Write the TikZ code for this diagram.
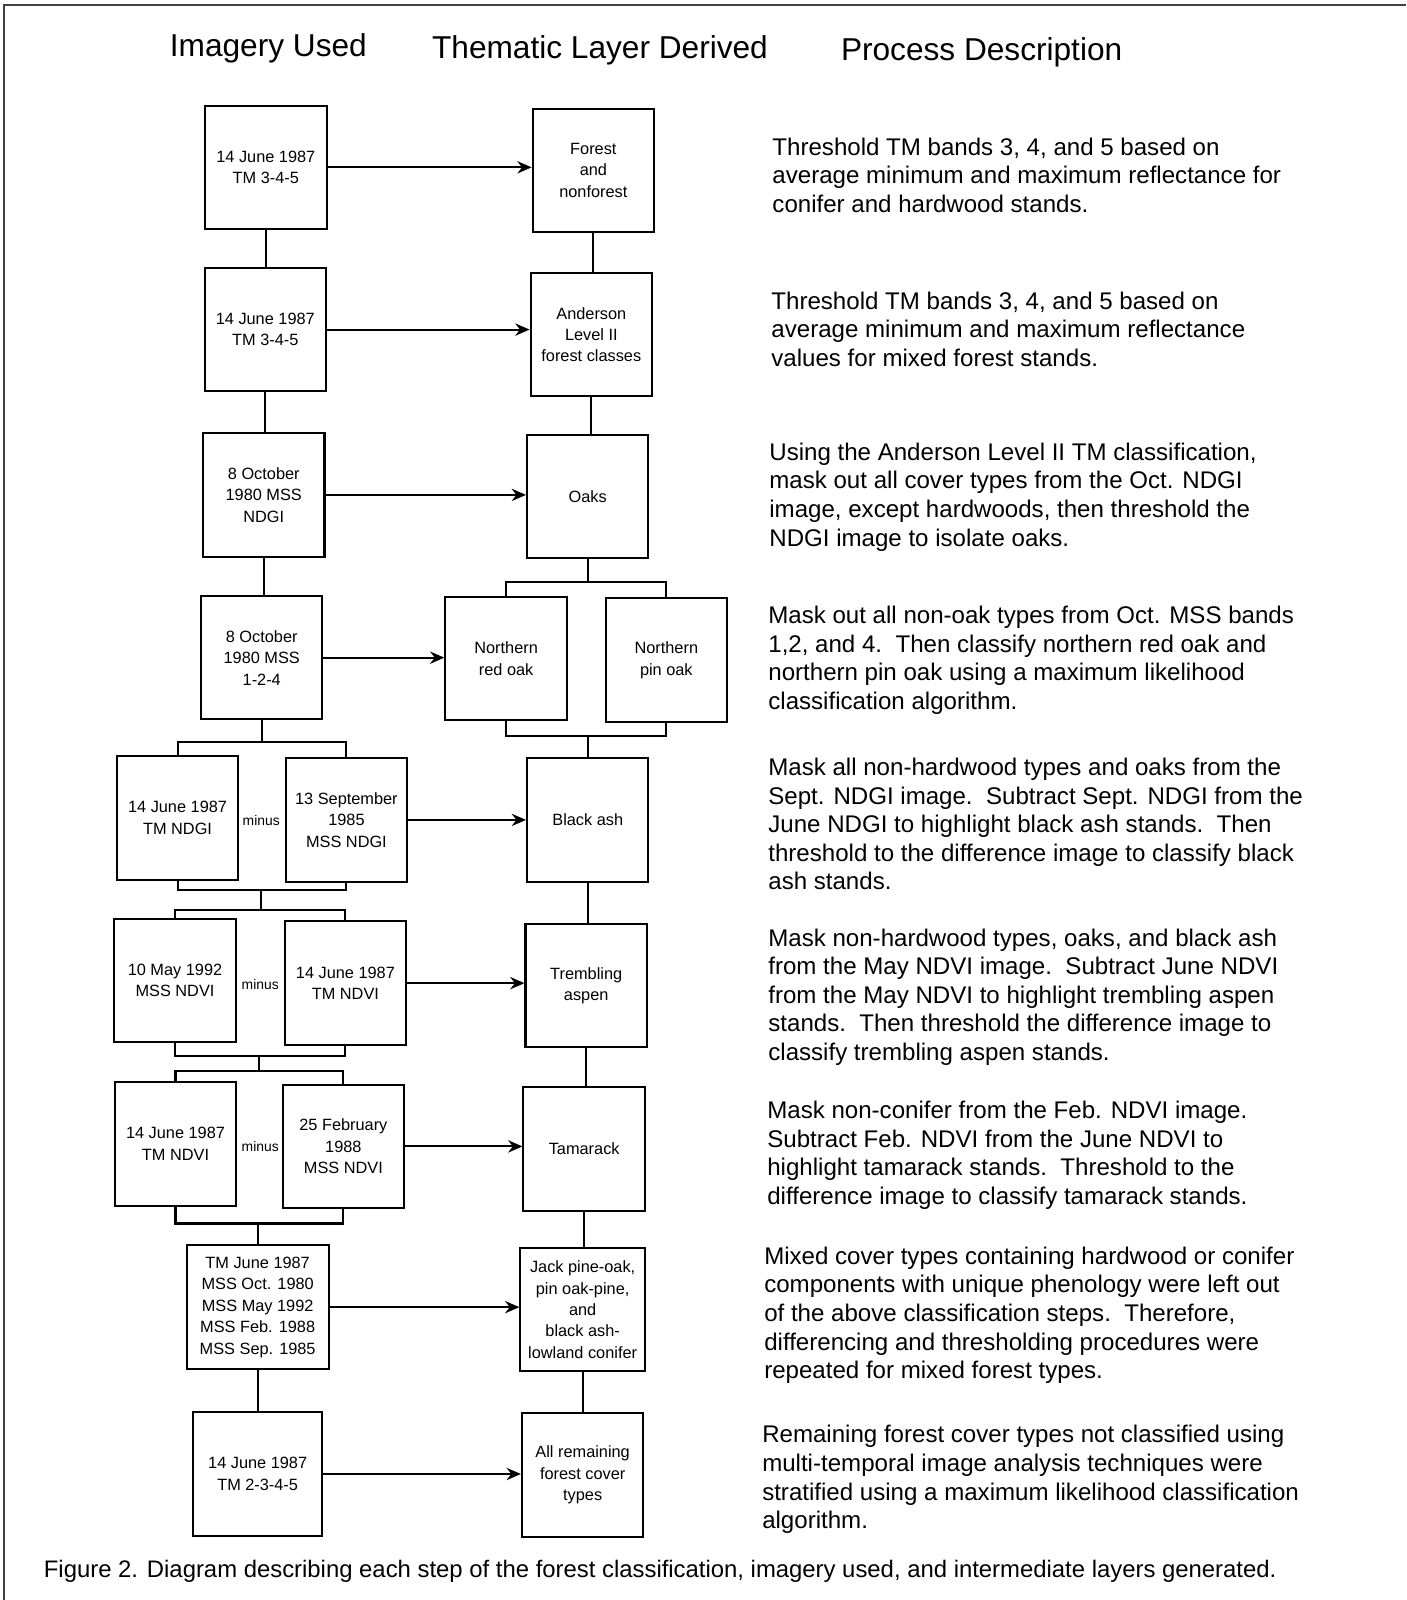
\documentclass[tikz,border=0pt]{standalone}
\usepackage{fontspec}
\setmainfont{Liberation Sans}
\usetikzlibrary{arrows.meta}

\begin{document}
\begin{tikzpicture}[x=0.5pt, y=-0.5pt, line width=1pt, >={Stealth[length=7pt,width=6pt]},
    cell/.style = {draw, minimum width=59.5pt, minimum height=60.5pt, inner sep=1pt, align=center, font=\fontsize{8}{10.5}\selectfont},
    headtxt/.style = {anchor=base, inner sep=0pt, font=\fontsize{15.5}{18}\selectfont},
    desctxt/.style = {anchor=north west, inner sep=0pt, align=left, font=\fontsize{11.8}{14}\selectfont},
    minuslbl/.style = {inner sep=0pt, font=\fontsize{6.8}{8}\selectfont}]
    \useasboundingbox (0,0) rectangle (1378,1568);
    \draw[line width=0.8pt, black!75] (4,1568) -- (4,5) -- (1378,5);

    \node[headtxt] (h1) at (263,55) {Imagery Used};
    \node[headtxt] (h2) at (588,57) {Thematic Layer Derived};
    \node[headtxt] (h3) at (962,59) {Process Description};

    \node[cell] (img1) at (260.5,164) {14 June 1987\\TM 3-4-5};
    \node[cell] (img2) at (260,323) {14 June 1987\\TM 3-4-5};
    \node[cell] (img3) at (258.5,485) {8 October\\1980 MSS\\NDGI};
    \node[cell] (img4) at (256.5,644.5) {8 October\\1980 MSS\\1-2-4};
    \node[cell] (img5a) at (174,801.5) {14 June 1987\\TM NDGI};
    \node[cell] (img5b) at (339.5,803.5) {13 September\\1985\\MSS NDGI};
    \node[cell] (img6a) at (171.5,961) {10 May 1992\\MSS NDVI};
    \node[cell] (img6b) at (338.5,963.5) {14 June 1987\\TM NDVI};
    \node[cell] (img7a) at (172,1121) {14 June 1987\\TM NDVI};
    \node[cell] (img7b) at (336.5,1123.5) {25 February\\1988\\MSS NDVI};
    \node[cell, minimum width=69.5pt, minimum height=61pt] (img8) at (252.5,1281) {TM June 1987\\MSS Oct. 1980\\MSS May 1992\\MSS Feb. 1988\\MSS Sep. 1985};
    \node[cell, minimum width=63pt] (img9) at (252.5,1444.5) {14 June 1987\\TM 2-3-4-5};

    \node[minuslbl] (m5) at (256,804) {minus};
    \node[minuslbl] (m6) at (255,965) {minus};
    \node[minuslbl] (m7) at (255,1124) {minus};

    \node[cell] (lay1) at (581.5,167) {Forest\\and\\nonforest};
    \node[cell] (lay2) at (579.5,328) {Anderson\\Level II\\forest classes};
    \node[cell] (lay3) at (576,486.5) {Oaks};
    \node[cell] (lay4a) at (496,645.5) {Northern\\red oak};
    \node[cell] (lay4b) at (653,647) {Northern\\pin oak};
    \node[cell] (lay5) at (576,803.5) {Black ash};
    \node[cell] (lay6) at (574.5,966) {Trembling\\aspen};
    \node[cell] (lay7) at (572.5,1126) {Tamarack};
    \node[cell, minimum width=61pt] (lay8) at (571,1283.5) {Jack pine-oak,\\pin oak-pine,\\and\\black ash-\\lowland conifer};
    \node[cell] (lay9) at (571,1445.5) {All remaining\\forest cover\\types};

    \node[desctxt] (d1) at (756,134) {Threshold TM bands 3, 4, and 5 based on\\average minimum and maximum reflectance for\\conifer and hardwood stands.};
    \node[desctxt] (d2) at (755,285) {Threshold TM bands 3, 4, and 5 based on\\average minimum and maximum reflectance\\values for mixed forest stands.};
    \node[desctxt] (d3) at (753,433) {Using the Anderson Level II TM classification,\\mask out all cover types from the Oct. NDGI\\image, except hardwoods, then threshold the\\NDGI image to isolate oaks.};
    \node[desctxt] (d4) at (752,593) {Mask out all non-oak types from Oct. MSS bands\\1,2, and 4.\ \ Then classify northern red oak and\\northern pin oak using a maximum likelihood\\classification algorithm.};
    \node[desctxt] (d5) at (752,742) {Mask all non-hardwood types and oaks from the\\Sept. NDGI image.\ \ Subtract Sept. NDGI from the\\June NDGI to highlight black ash stands.\ \ Then\\threshold to the difference image to classify black\\ash stands.};
    \node[desctxt] (d6) at (752,909) {Mask non-hardwood types, oaks, and black ash\\from the May NDVI image.\ \ Subtract June NDVI\\from the May NDVI to highlight trembling aspen\\stands.\ \ Then threshold the difference image to\\classify trembling aspen stands.};
    \node[desctxt] (d7) at (751,1078) {Mask non-conifer from the Feb. NDVI image.\\Subtract Feb. NDVI from the June NDVI to\\highlight tamarack stands.\ \ Threshold to the\\difference image to classify tamarack stands.};
    \node[desctxt] (d8) at (748,1221) {Mixed cover types containing hardwood or conifer\\components with unique phenology were left out\\of the above classification steps.\ \ Therefore,\\differencing and thresholding procedures were\\repeated for mixed forest types.};
    \node[desctxt] (d9) at (746,1396) {Remaining forest cover types not classified using\\multi-temporal image analysis techniques were\\stratified using a maximum likelihood classification\\algorithm.};

    \node[anchor=base west, inner sep=0pt, font=\fontsize{11.7}{14}\selectfont] (cap) at (42,1546) {Figure 2. Diagram describing each step of the forest classification, imagery used, and intermediate layers generated.};

    \coordinate (l5t) at (256.5,727);
    \coordinate (l5b) at (256,872);
    \coordinate (l6t) at (256,892);
    \coordinate (l6b) at (254,1035);
    \coordinate (l7t) at (254,1050);
    \coordinate (l7b) at (252.5,1199);
    \coordinate (r4t) at (576,570);
    \coordinate (r4b) at (576,721);

    \draw (img1.south) -- (img1.south |- img2.north);
    \draw (img2.south) -- (img2.south |- img3.north);
    \draw (img3.south) -- (img3.south |- img4.north);
    \draw (img4.south) -- (l5t);
    \draw (img5a.north) |- (l5t) -| (img5b.north);
    \draw (img5a.south) |- (l5b) -| (img5b.south);
    \draw (l5b) -- (l6t);
    \draw (img6a.north) |- (l6t) -| (img6b.north);
    \draw (img6a.south) |- (l6b) -| (img6b.south);
    \draw (l6b) -- (l7t);
    \draw (img7a.north) |- (l7t) -| (img7b.north);
    \draw (img7a.south) |- (l7b) -| (img7b.south);
    \draw (l7b) -- (l7b |- img8.north);
    \draw (img8.south) -- (img8.south |- img9.north);

    \draw (lay1.south) -- (lay1.south |- lay2.north);
    \draw (lay2.south) -- (lay2.south |- lay3.north);
    \draw (lay3.south) -- (r4t);
    \draw (lay4a.north) |- (r4t) -| (lay4b.north);
    \draw (lay4a.south) |- (r4b) -| (lay4b.south);
    \draw (r4b) -- (r4b |- lay5.north);
    \draw (lay5.south) -- (lay5.south |- lay6.north);
    \draw (lay6.south) -- (lay6.south |- lay7.north);
    \draw (lay7.south) -- (lay7.south |- lay8.north);
    \draw (lay8.south) -- (lay8.south |- lay9.north);

    \draw[->] (img1.east) -- (img1.east -| lay1.west);
    \draw[->] (img2.east) -- (img2.east -| lay2.west);
    \draw[->] (img3.east) -- (img3.east -| lay3.west);
    \draw[->] (img4.east) -- (img4.east -| lay4a.west);
    \draw[->] (img5b.east) -- (img5b.east -| lay5.west);
    \draw[->] (img6b.east) -- (img6b.east -| lay6.west);
    \draw[->] (img7b.east) -- (img7b.east -| lay7.west);
    \draw[->] (img8.east) -- (img8.east -| lay8.west);
    \draw[->] (img9.east) -- (img9.east -| lay9.west);
\end{tikzpicture}
\end{document}
